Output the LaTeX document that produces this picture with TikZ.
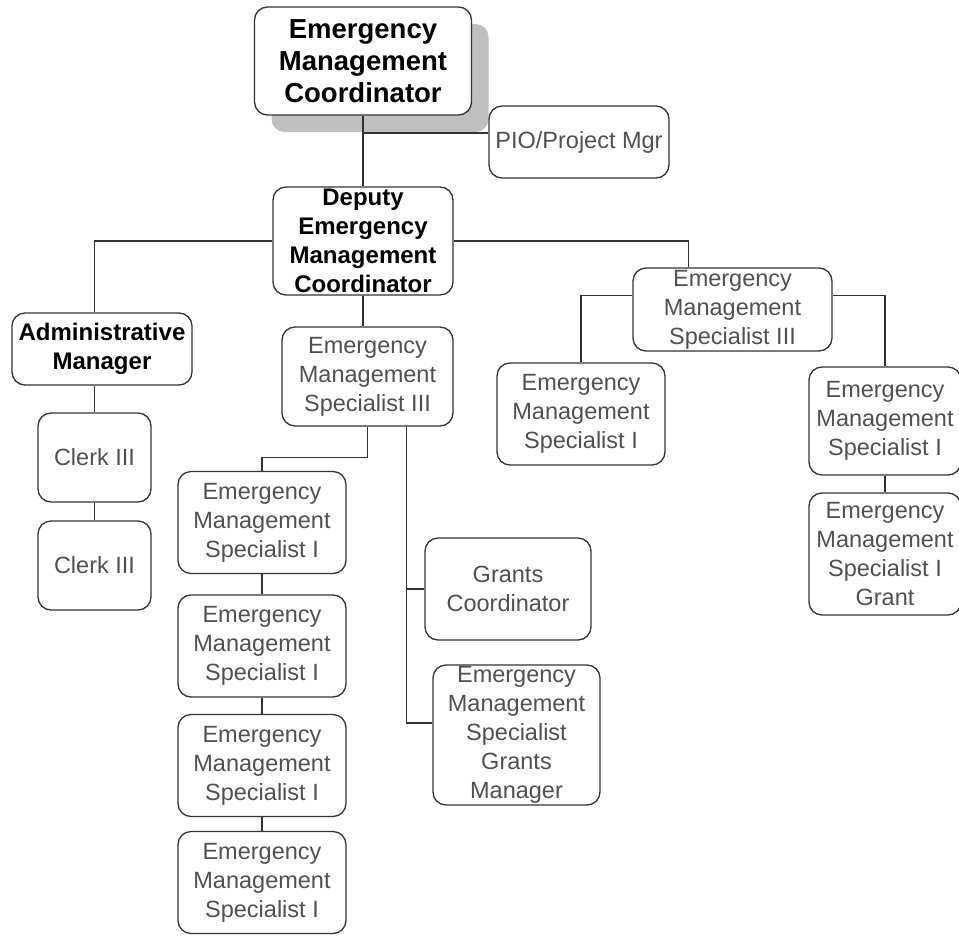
\documentclass[tikz,border=0pt]{standalone}
\usepackage{fontspec}
\setmainfont{Liberation Sans}
\usetikzlibrary{shadows}
\definecolor{linegray}{HTML}{333333}
\definecolor{textgray}{HTML}{505050}

\begin{document}
\begin{tikzpicture}[
    x=1pt, y=-1pt,
    box/.style={rectangle, rounded corners=13pt, draw=linegray, line width=1.3pt, fill=white, align=center, inner sep=0pt, text=textgray, font=\fontsize{23.5}{29}\selectfont, minimum width=168pt, minimum height=102pt},
    headbox/.style={box, text=black, font=\bfseries\fontsize{24}{29}\selectfont},
    link/.style={draw=linegray, line width=1.3pt}
]
\useasboundingbox (0,0) rectangle (959,935);

% Coordinator and deputy
\node[headbox, font=\bfseries\fontsize{27.5}{32}\selectfont, minimum width=217pt, minimum height=108pt,
      drop shadow={shadow xshift=17pt, shadow yshift=-17pt, fill=black!25, opacity=1}] (emc) at (363,61) {Emergency\\Management\\Coordinator};
\node[box, minimum width=180pt, minimum height=72pt] (pio) at (579,142) {PIO/Project Mgr};
\node[headbox, minimum width=180pt, minimum height=108pt] (dep) at (363,241) {Deputy\\Emergency\\Management\\Coordinator};

% Admin branch
\node[headbox, minimum width=180pt, minimum height=72pt] (adm) at (102,349) {Administrative\\Manager};
\node[box, minimum width=113pt, minimum height=89pt] (clkA) at (94.5,457.5) {Clerk III};
\node[box, minimum width=113pt, minimum height=89pt] (clkB) at (94.5,565.5) {Clerk III};

% Middle branch
\node[box, minimum width=171pt, minimum height=99pt] (emsM) at (367.5,376.5) {Emergency\\Management\\Specialist III};
\node[box] (emsA) at (262,522.5) {Emergency\\Management\\Specialist I};
\node[box] (emsB) at (262,646) {Emergency\\Management\\Specialist I};
\node[box] (emsC) at (262,765.5) {Emergency\\Management\\Specialist I};
\node[box] (emsD) at (262,882.5) {Emergency\\Management\\Specialist I};
\node[box, minimum width=166pt] (grc) at (508,589) {Grants\\Coordinator};
\node[box, minimum width=167pt, minimum height=140pt] (grm) at (516.5,735) {Emergency\\Management\\Specialist\\Grants\\Manager};

% Right branch
\node[box, minimum width=199pt, minimum height=83pt] (emsR) at (732.5,309.5) {Emergency\\Management\\Specialist III};
\node[box] (emsE) at (581,414) {Emergency\\Management\\Specialist I};
\node[box, minimum width=152pt, minimum height=108pt] (emsF) at (885,421) {Emergency\\Management\\Specialist I};
\node[box, minimum width=152pt, minimum height=122pt] (emsG) at (885,554) {Emergency\\Management\\Specialist I\\Grant};

% Connectors
\coordinate (pj) at ([yshift=9pt]pio.west);
\draw[link] (emc.south) -- (dep.north);
\draw[link] (pj) -- (pj -| emc.south);

\draw[link] (dep.west) -| (adm.north -| clkA.north);
\draw[link] (adm.south -| clkA.north) -- (clkA.north);
\draw[link] (dep.east) -| ([xshift=-44pt]emsR.north);
\draw[link] (dep.south) -- (dep.south |- emsM.north);

\draw[link] (emsM.south) -- ++(0,31) -| (emsA.north);
\coordinate (gt) at ([xshift=39pt]emsM.south);
\coordinate (gm) at ([yshift=12pt]grm.west);
\draw[link] (gt) |- (gm);
\draw[link] (gt |- grc.west) -- (grc.west);

\coordinate (rl) at ([yshift=14pt]emsR.west);
\coordinate (rr) at ([yshift=14pt]emsR.east);
\draw[link] (rl) -| (emsE.north);
\draw[link] (rr) -| (emsF.north);

\foreach \a/\b in {clkA/clkB, emsA/emsB, emsB/emsC, emsC/emsD, emsF/emsG}
  \draw[link] (\a.south) -- (\b.north);

\end{tikzpicture}
\end{document}
